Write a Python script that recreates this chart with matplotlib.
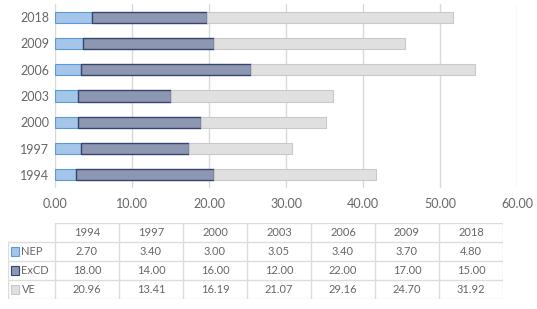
import matplotlib
matplotlib.use("Agg")
import matplotlib.pyplot as plt
from matplotlib.patches import Rectangle

years = ["1994", "1997", "2000", "2003", "2006", "2009", "2018"]
nep = [2.70, 3.40, 3.00, 3.05, 3.40, 3.70, 4.80]
excd = [18.00, 14.00, 16.00, 12.00, 22.00, 17.00, 15.00]
ve = [20.96, 13.41, 16.19, 21.07, 29.16, 24.70, 31.92]
series_names = ["NEP", "ExCD", "VE"]
xticks = [0, 10, 20, 30, 40, 50, 60]

plt.rcParams["font.family"] = ["Lato", "DejaVu Sans"]
TXT = "#666666"
GRID = "#D9D9D9"

face = ["#A3C6EA", "#8E97B2", "#E0E0E0"]
edge = ["#5B9BD5", "#34466F", "#C9C9C9"]

W, H = 537, 309
fig = plt.figure(figsize=(W / 100, H / 100), dpi=100)

# main bar chart
ax = fig.add_axes([55 / W, 1 - 188 / H, 462 / W, 184 / H])
pos = list(range(len(years)))
left2 = [a + b for a, b in zip(nep, excd)]
bh = 0.42
ax.barh(pos, nep, height=bh, color=face[0], edgecolor=edge[0], linewidth=0.8, zorder=3)
ax.barh(pos, excd, left=nep, height=bh, color=face[1], edgecolor=edge[1], linewidth=1.0, zorder=3)
ax.barh(pos, ve, left=left2, height=bh, color=face[2], edgecolor=edge[2], linewidth=0.8, zorder=3)

ax.set_xlim(0, 60)
ax.set_ylim(-0.5, len(years) - 0.5)
ax.set_xticks(xticks)
ax.set_xticklabels([f"{v:.2f}" for v in xticks])
ax.set_yticks(pos)
ax.set_yticklabels(years)
ax.tick_params(length=0, labelsize=9, colors=TXT, pad=4)
ax.tick_params(axis="x", pad=7)
ax.grid(axis="x", color=GRID, linewidth=1.0, zorder=0)
for s in ax.spines.values():
    s.set_visible(False)

# data table below the chart
tx0, tx1, ty0, ty1 = 8, 503, 223, 299
tab = fig.add_axes([tx0 / W, 1 - ty1 / H, (tx1 - tx0) / W, (ty1 - ty0) / H])
lab_w = 47
col_w = (tx1 - tx0 - lab_w) / len(years)
nrows = 4
tab.set_xlim(0, tx1 - tx0)
tab.set_ylim(nrows, 0)
tab.axis("off")

lc = "#DDDDDD"
# horizontal lines
tab.plot([lab_w, tx1 - tx0], [0, 0], color=lc, lw=1)
for r in range(1, nrows + 1):
    tab.plot([0, tx1 - tx0], [r, r], color=lc, lw=1)
# vertical lines
tab.plot([0, 0], [1, nrows], color=lc, lw=1)
for c in range(len(years) + 1):
    x = lab_w + c * col_w
    tab.plot([x, x], [0, nrows], color=lc, lw=1)

for c, y in enumerate(years):
    tab.text(lab_w + (c + 0.5) * col_w, 0.5, y, ha="center", va="center",
             fontsize=8, color=TXT)

rows = [nep, excd, ve]
for r, (name, vals) in enumerate(zip(series_names, rows)):
    yc = r + 1.5
    tab.add_patch(Rectangle((3, yc - 0.22), 8, 0.44, facecolor=face[r],
                            edgecolor=edge[r], lw=0.8))
    tab.text(13.5, yc, name, ha="left", va="center", fontsize=8, color=TXT)
    for c, v in enumerate(vals):
        tab.text(lab_w + (c + 0.5) * col_w, yc, f"{v:.2f}", ha="center",
                 va="center", fontsize=8, color=TXT)

fig.savefig("out.png", dpi=100)
